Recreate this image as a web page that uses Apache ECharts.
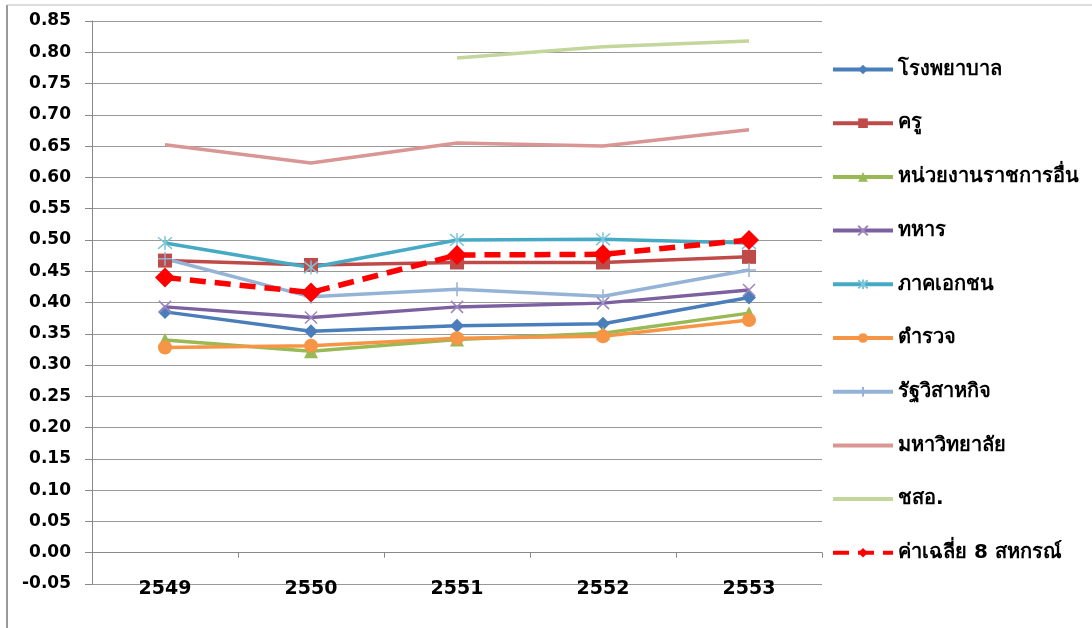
<!DOCTYPE html>
<html>
<head>
<meta charset="utf-8">
<script src="https://cdn.jsdelivr.net/npm/echarts@6/dist/echarts.min.js"></script>
<style>
  html, body { margin: 0; padding: 0; background: #fff; }
  #chart { width: 1092px; height: 628px; }
</style>
</head>
<body>
<div id="chart"></div>
<script>
// ปี
const years = ["2549", "2550", "2551", "2552", "2553"];

const hospital = [0.385, 0.354, 0.363, 0.366, 0.408];
const teacher = [0.467, 0.460, 0.464, 0.464, 0.473];
const govOther = [0.340, 0.322, 0.341, 0.351, 0.383];
const soldier = [0.393, 0.376, 0.393, 0.399, 0.420];
const privateSector = [0.495, 0.456, 0.500, 0.501, 0.495];
const police = [0.328, 0.331, 0.343, 0.346, 0.372];
const stateEnterprise = [0.470, 0.409, 0.421, 0.410, 0.452];
const university = [0.652, 0.623, 0.655, 0.650, 0.676];
const chso = [null, null, 0.791, 0.809, 0.818];
const average = [0.440, 0.416, 0.476, 0.477, 0.500];

const names = [
  "โรงพยาบาล", "ครู", "หน่วยงานราชการอื่น", "ทหาร", "ภาคเอกชน",
  "ตำรวจ", "รัฐวิสาหกิจ", "มหาวิทยาลัย", "ชสอ.", "ค่าเฉลี่ย 8 สหกรณ์"
];

const xPath = "path://M0,0L10,10M10,0L0,10";
const starPath = "path://M0,0L10,10M10,0L0,10M5,-1L5,11";
const plusPath = "path://M5,0L5,10M0,5L10,5";

function lineSeries(name, data, color, symbol, size, extra) {
  let s = {
    name: name,
    type: "line",
    xAxisIndex: 0,
    data: data,
    symbol: symbol,
    symbolSize: size,
    lineStyle: { color: color, width: 3.5 },
    itemStyle: { color: color },
    emphasis: { disabled: true }
  };
  return Object.assign(s, extra || {});
}

const strokeMark = (color) => ({
  itemStyle: { color: "rgba(0,0,0,0)", borderColor: color, borderWidth: 1.5 }
});

// เส้นอย่างเดียว ไม่มีจุด
const plainLine = (color) => ({
  showSymbol: false,
  itemStyle: { color: color, opacity: 0 }
});

let myChart = echarts.init(document.getElementById("chart"));
myChart.setOption({
  animation: false,
  textStyle: { fontFamily: "DejaVu Sans, Noto Sans, sans-serif" },
  graphic: [
    { type: "line", shape: { x1: 7, y1: 5, x2: 7, y2: 628 }, style: { stroke: "#999", lineWidth: 2 } },
    { type: "line", shape: { x1: 7, y1: 5, x2: 1092, y2: 5 }, style: { stroke: "#bbb", lineWidth: 1 } }
  ],
  grid: { left: 92, right: 270, top: 21, bottom: 44 },
  legend: {
    orient: "vertical",
    left: 826,
    top: 53,
    itemWidth: 60,
    itemHeight: 12,
    itemGap: 30.7,
    lineStyle: { width: 4 },
    data: names,
    textStyle: { color: "#000", fontSize: 20, fontWeight: "bold", lineHeight: 23 }
  },
  xAxis: [
    {
      // labels sit on the bottom line
      type: "category",
      data: years,
      position: "bottom",
      axisLine: { show: false },
      axisTick: { show: false },
      axisLabel: { color: "#000", fontSize: 19, fontWeight: "bold", margin: -4 }
    },
    {
      // axis line crossing at 0.00
      type: "category",
      data: years,
      position: "bottom",
      offset: -31.3,
      axisLine: { show: true, onZero: false, lineStyle: { color: "#888" } },
      axisTick: { show: true, length: 5, lineStyle: { color: "#888" } },
      axisLabel: { show: false }
    }
  ],
  yAxis: {
    type: "value",
    min: -0.05,
    max: 0.85,
    interval: 0.05,
    axisLine: { show: true, lineStyle: { color: "#888" } },
    axisTick: { show: true, inside: false, length: 7, lineStyle: { color: "#888" } },
    axisLabel: {
      color: "#000", fontSize: 17, fontWeight: "bold", margin: 21,
      formatter: (v) => v.toFixed(2)
    },
    splitLine: { lineStyle: { color: "#999", width: 1 } }
  },
  series: [
    lineSeries(names[0], hospital, "#4A7EBB", "diamond", 14),
    lineSeries(names[1], teacher, "#BE4B48", "rect", 14),
    lineSeries(names[2], govOther, "#98B954", "triangle", 14),
    lineSeries(names[3], soldier, "#7D60A0", xPath, 12, strokeMark("#9c86bd")),
    lineSeries(names[4], privateSector, "#46AAC5", starPath, 14, strokeMark("#7cc4d8")),
    lineSeries(names[5], police, "#F69545", "circle", 14),
    lineSeries(names[6], stateEnterprise, "#95B3D7", plusPath, 14, strokeMark("#95B3D7")),
    lineSeries(names[7], university, "#D99694", "circle", 4, plainLine("#D99694")),
    lineSeries(names[8], chso, "#C3D69B", "circle", 4, plainLine("#C3D69B")),
    lineSeries(names[9], average, "#FF0000", "diamond", 20, {
      lineStyle: { color: "#FF0000", width: 5.5, type: [16, 9] }
    })
  ]
});
</script>
</body>
</html>
